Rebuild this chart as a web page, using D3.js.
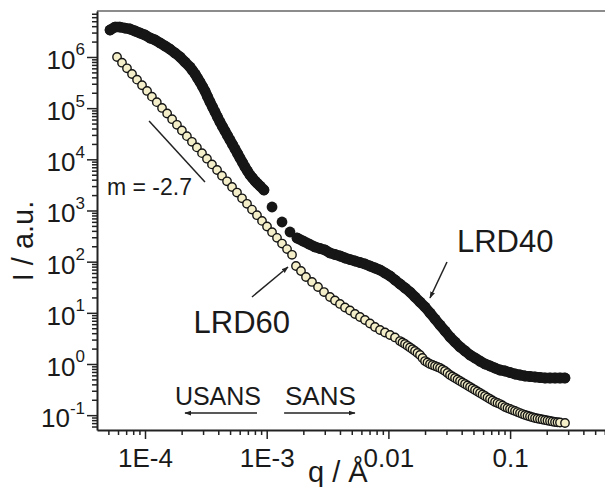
<!DOCTYPE html>
<html>
<head>
<meta charset="utf-8">
<script src="https://cdn.jsdelivr.net/npm/d3@7"></script>
<style>
  body { margin: 0; background: #fff; }
  svg { display: block; }
  text { font-family: "Liberation Sans", Arial, sans-serif; fill: #1a1a1a; }
</style>
</head>
<body>
<svg id="chart" width="605" height="487"></svg>
<script>
// LRD40 (filled) - USANS part (first 46) then SANS part
const lrd40Q = [
  5.16e-5, 5.67e-5, 6.23e-5, 6.85e-5, 7.53e-5, 8.28e-5, 9.10e-5, 1.00e-4, 1.10e-4, 1.21e-4,
  1.33e-4, 1.46e-4, 1.60e-4, 1.76e-4, 1.94e-4, 2.13e-4, 2.34e-4, 2.457e-4, 2.58e-4, 2.70e-4,
  2.83e-4, 2.97e-4, 3.11e-4, 3.26e-4, 3.42e-4, 3.59e-4, 3.76e-4, 3.94e-4, 4.13e-4, 4.33e-4,
  4.54e-4, 4.76e-4, 4.99e-4, 5.24e-4, 5.49e-4, 5.76e-4, 6.03e-4, 6.33e-4, 6.63e-4, 6.95e-4,
  7.29e-4, 7.64e-4, 8.01e-4, 8.40e-4, 8.81e-4, 9.50e-4,
  1.106e-3, 1.336e-3, 1.554e-3, 1.774e-3, 1.988e-3, 2.227e-3, 2.495e-3, 2.742e-3, 3.013e-3, 3.312e-3,
  3.640e-3, 4.002e-3, 4.399e-3, 4.836e-3, 5.316e-3, 5.843e-3, 6.422e-3, 7.059e-3, 7.760e-3, 8.531e-3,
  9.378e-3, 0.01031, 0.01133, 0.01245, 0.01369, 0.01505, 0.01654, 0.01818, 0.01999, 0.02197,
  0.02415, 0.02655, 0.02918, 0.03208, 0.03526, 0.03876, 0.04261, 0.04684, 0.05149, 0.05659,
  0.06221, 0.06838, 0.07516, 0.08262, 0.09082, 0.0998, 0.1097, 0.1206, 0.1326, 0.1457,
  0.1602, 0.1761, 0.1936, 0.2128, 0.2339, 0.2570, 0.2826
];
const lrd40I = [
  3.37e6, 3.85e6, 3.85e6, 3.68e6, 3.52e6, 3.22e6, 2.94e6, 2.69e6, 2.35e6, 2.15e6,
  1.88e6, 1.64e6, 1.43e6, 1.20e6, 1.00e6, 7.98e5, 6.37e5, 5.45e5, 4.65e5, 3.88e5,
  3.24e5, 2.65e5, 2.16e5, 1.69e5, 1.32e5, 1.05e5, 8.41e4, 6.71e4, 5.36e4, 4.38e4,
  3.57e4, 2.92e4, 2.39e4, 1.95e4, 1.59e4, 1.30e4, 1.06e4, 8.67e3, 7.08e3, 5.91e3,
  4.94e3, 4.32e3, 3.77e3, 3.37e3, 3.01e3, 2.51e3,
  1170, 596, 380, 290, 253, 221, 194, 181, 169, 148,
  138, 129, 118, 110, 103, 96.3, 90.0, 82.2, 75.2, 68.7,
  60.0, 52.4, 43.8, 36.6, 30.6, 25.5, 20.4, 16.3, 13.0, 9.93,
  7.57, 5.78, 4.42, 3.37, 2.69, 2.15, 1.80, 1.50, 1.31, 1.14,
  1.00, 0.914, 0.835, 0.763, 0.730, 0.682, 0.638, 0.610, 0.583, 0.570,
  0.557, 0.545, 0.533, 0.533, 0.533, 0.533, 0.533
];

// LRD60 (open) - USANS part then SANS part
const lrd60Q = [
  5.89e-5, 6.47e-5, 7.11e-5, 7.82e-5, 8.60e-5, 9.45e-5, 1.04e-4, 1.14e-4, 1.25e-4, 1.38e-4,
  1.52e-4, 1.67e-4, 1.83e-4, 2.01e-4, 2.21e-4, 2.43e-4, 2.67e-4, 2.94e-4, 3.23e-4, 3.55e-4,
  3.91e-4, 4.29e-4, 4.72e-4, 5.19e-4, 5.70e-4, 6.27e-4, 6.89e-4, 7.57e-4, 8.32e-4, 9.15e-4,
  1.006e-3, 1.106e-3, 1.215e-3, 1.336e-3, 1.469e-3, 1.614e-3,
  1.74e-3, 1.913e-3, 2.103e-3, 2.357e-3, 2.640e-3, 2.957e-3, 3.312e-3, 3.640e-3, 4.002e-3, 4.399e-3,
  4.836e-3, 5.316e-3, 5.843e-3, 6.422e-3, 7.059e-3, 7.760e-3, 8.531e-3, 9.378e-3, 0.01031, 0.01133,
  0.01245, 0.01305, 0.01369, 0.01435, 0.01505, 0.01578, 0.01654, 0.01734, 0.01818, 0.01906,
  0.01999, 0.02095, 0.02197, 0.02303, 0.02415, 0.02532, 0.02655, 0.02782, 0.02918, 0.03059,
  0.03208, 0.03363, 0.03526, 0.03697, 0.03876, 0.04063, 0.04261, 0.04467, 0.04684, 0.04910,
  0.05149, 0.05398, 0.05659, 0.05933, 0.06221, 0.06522, 0.06838, 0.07169, 0.07516, 0.07879,
  0.08262, 0.08661, 0.09082, 0.09520, 0.0998, 0.1046, 0.1097, 0.1150, 0.1206, 0.1264,
  0.1326, 0.1390, 0.1457, 0.1528, 0.1602, 0.1679, 0.1761, 0.1846, 0.1936, 0.2029,
  0.2128, 0.2230, 0.2339, 0.2452, 0.2570, 0.2826
];
const lrd60I = [
  1.00e6, 7.73e5, 6.01e5, 4.65e5, 3.61e5, 2.80e5, 2.17e5, 1.68e5, 1.31e5, 1.01e5,
  7.87e4, 6.08e4, 4.73e4, 3.66e4, 2.84e4, 2.20e4, 1.71e4, 1.32e4, 1.03e4, 7.96e3,
  6.18e3, 4.79e3, 3.72e3, 2.88e3, 2.24e3, 1.73e3, 1.35e3, 1.04e3, 809, 626,
  487, 377, 292, 226, 176, 136,
  82.2, 65.7, 50.1, 40.1, 32.0, 25.5, 20.4, 17.4, 14.9, 12.7,
  11.1, 9.49, 8.29, 7.24, 6.19, 5.28, 4.62, 4.13, 3.69, 3.30,
  2.81, 2.63, 2.46, 2.27, 2.10, 1.94, 1.80, 1.64, 1.50, 1.31,
  1.14, 1.07, 1.00, 0.956, 0.914, 0.874, 0.835, 0.781, 0.730, 0.667,
  0.610, 0.570, 0.533, 0.498, 0.465, 0.435, 0.407, 0.380, 0.355, 0.332,
  0.310, 0.290, 0.271, 0.254, 0.237, 0.221, 0.207, 0.194, 0.181, 0.173,
  0.165, 0.155, 0.144, 0.138, 0.132, 0.126, 0.121, 0.115, 0.110, 0.105,
  0.101, 0.0975, 0.0942, 0.0911, 0.0881, 0.0861, 0.0842, 0.0823, 0.0805, 0.0787,
  0.0769, 0.0752, 0.0736, 0.0727, 0.0719, 0.0703
];

const xTickValues = [1e-4, 1e-3, 0.01, 0.1];
const xTickLabels = ["1E-4", "1E-3", "0.01", "0.1"];
const yTickExps = [-1, 0, 1, 2, 3, 4, 5, 6];

// slope guide, [q, I]
const slopeLine = [[1.08e-4, 5.6e4], [3.11e-4, 3.6e3]];

const margin = { top: 11, left: 97, bottom: 430, right: 640 };
const svg = d3.select("#chart");

const x = d3.scaleLog().domain([4.032e-5, 1.168]).range([margin.left, margin.right]);
const y = d3.scaleLog().domain([0.0513, 7.92e6]).range([margin.bottom, margin.top]);

// arrow head
svg.append("defs").append("marker")
    .attr("id", "head").attr("viewBox", "0 0 10 10")
    .attr("refX", 9).attr("refY", 5)
    .attr("markerWidth", 7).attr("markerHeight", 7)
    .attr("markerUnits", "userSpaceOnUse")
    .attr("orient", "auto")
  .append("path").attr("d", "M0,1.5 L10,5 L0,8.5 z").attr("fill", "#222");

// top frame line
svg.append("line")
    .attr("x1", margin.left).attr("x2", margin.right)
    .attr("y1", margin.top).attr("y2", margin.top)
    .attr("stroke", "#666").attr("stroke-width", 1.6);

// minor ticks
const minorX = [], minorY = [];
for (let e = -5; e <= 0; e++) for (let m = 2; m <= 9; m++) {
  const v = m * Math.pow(10, e);
  if (v > x.domain()[0] && v < x.domain()[1]) minorX.push(v);
}
for (let e = -2; e <= 6; e++) for (let m = 2; m <= 9; m++) {
  const v = m * Math.pow(10, e);
  if (v > y.domain()[0] && v < y.domain()[1]) minorY.push(v);
}

const gxMinor = svg.append("g").attr("transform", `translate(0,${margin.bottom})`)
    .call(d3.axisBottom(x).tickValues(minorX).tickSize(5).tickFormat(""));
gxMinor.select(".domain").remove();

const gx = svg.append("g").attr("transform", `translate(0,${margin.bottom})`)
    .call(d3.axisBottom(x).tickValues(xTickValues).tickSize(9).tickSizeOuter(0)
      .tickFormat((d, i) => xTickLabels[i]));
gx.selectAll("text").attr("y", 37).attr("dy", null)
    .style("font-size", "26px").attr("fill", "#1a1a1a");

const gyMinor = svg.append("g").attr("transform", `translate(${margin.left},0)`)
    .call(d3.axisLeft(y).tickValues(minorY).tickSize(5).tickFormat(""));
gyMinor.select(".domain").remove();

const gy = svg.append("g").attr("transform", `translate(${margin.left},0)`)
    .call(d3.axisLeft(y).tickValues(yTickExps.map(e => Math.pow(10, e))).tickSize(10).tickSizeOuter(0)
      .tickFormat(""));
gy.selectAll(".tick text").each(function(d, i) {
  const t = d3.select(this).attr("x", -12).attr("y", 11.5).attr("dy", null)
      .attr("fill", "#1a1a1a").style("font-size", "26px");
  t.append("tspan").text("10");
  t.append("tspan").attr("dy", -13.5).style("font-size", "17px").text(yTickExps[i]);
});

[gxMinor, gx, gyMinor, gy].forEach(g => {
  g.selectAll("line").attr("stroke", "#222").attr("stroke-width", 1.5);
  g.select(".domain").attr("stroke", "#222").attr("stroke-width", 2);
});

// axis titles
svg.append("text")
    .attr("transform", "translate(33,241) rotate(-90)")
    .attr("text-anchor", "middle").style("font-size", "29px")
    .text("I / a.u.");
svg.append("text")
    .attr("x", 308).attr("y", 482).style("font-size", "29px")
    .text("q / Å");

// data
const lrd40 = lrd40Q.map((q, i) => [q, lrd40I[i]]);
const lrd60 = lrd60Q.map((q, i) => [q, lrd60I[i]]);

// dense runs of LRD40 merge into a solid band
const band = d3.line().x(d => x(d[0])).y(d => y(d[1]));
svg.append("g").selectAll("path")
    .data([lrd40.slice(0, 46), lrd40.slice(49)])
    .join("path")
    .attr("d", band)
    .attr("fill", "none").attr("stroke", "#161616").attr("stroke-width", 10.5)
    .attr("stroke-linejoin", "round").attr("stroke-linecap", "round");

svg.append("g").selectAll("circle").data(lrd40).join("circle")
    .attr("cx", d => x(d[0])).attr("cy", d => y(d[1]))
    .attr("r", 5.4).attr("fill", "#161616");

svg.append("g").selectAll("circle").data(lrd60).join("circle")
    .attr("cx", d => x(d[0])).attr("cy", d => y(d[1]))
    .attr("r", 4.2).attr("fill", "#f4efc8")
    .attr("stroke", "#151515").attr("stroke-width", 1.4);

// annotations
svg.append("line")
    .attr("x1", x(slopeLine[0][0])).attr("y1", y(slopeLine[0][1]))
    .attr("x2", x(slopeLine[1][0])).attr("y2", y(slopeLine[1][1]))
    .attr("stroke", "#222").attr("stroke-width", 1.5);
svg.append("text")
    .attr("x", x(4.87e-5)).attr("y", y(2.01e3)).style("font-size", "23px")
    .text("m = -2.7");

const arrows = [
  { from: [7.57e-4, 20.4], to: [1.496e-3, 78.7] },   // LRD60
  { from: [3.03e-2, 98.5], to: [2.197e-2, 19.5] },   // LRD40
  { from: [8.32e-4, 0.110], to: [2.13e-4, 0.110] },  // USANS
  { from: [1.39e-3, 0.110], to: [5.31e-3, 0.110] }   // SANS
];
svg.append("g").selectAll("line").data(arrows).join("line")
    .attr("x1", d => x(d.from[0])).attr("y1", d => y(d.from[1]))
    .attr("x2", d => x(d.to[0])).attr("y2", d => y(d.to[1]))
    .attr("stroke", "#222").attr("stroke-width", 1.5)
    .attr("marker-end", "url(#head)");

const labels = [
  { text: "LRD60", q: 1.554e-3, I: 4.04, anchor: "end", size: 31 },
  { text: "LRD40", q: 3.66e-2, I: 154, anchor: "start", size: 31 },
  { text: "USANS", q: 1.76e-4, I: 0.158, anchor: "start", size: 25 },
  { text: "SANS", q: 1.414e-3, I: 0.158, anchor: "start", size: 26 }
];
svg.append("g").selectAll("text").data(labels).join("text")
    .attr("x", d => x(d.q)).attr("y", d => y(d.I))
    .attr("text-anchor", d => d.anchor)
    .style("font-size", d => d.size + "px")
    .text(d => d.text);
</script>
</body>
</html>
